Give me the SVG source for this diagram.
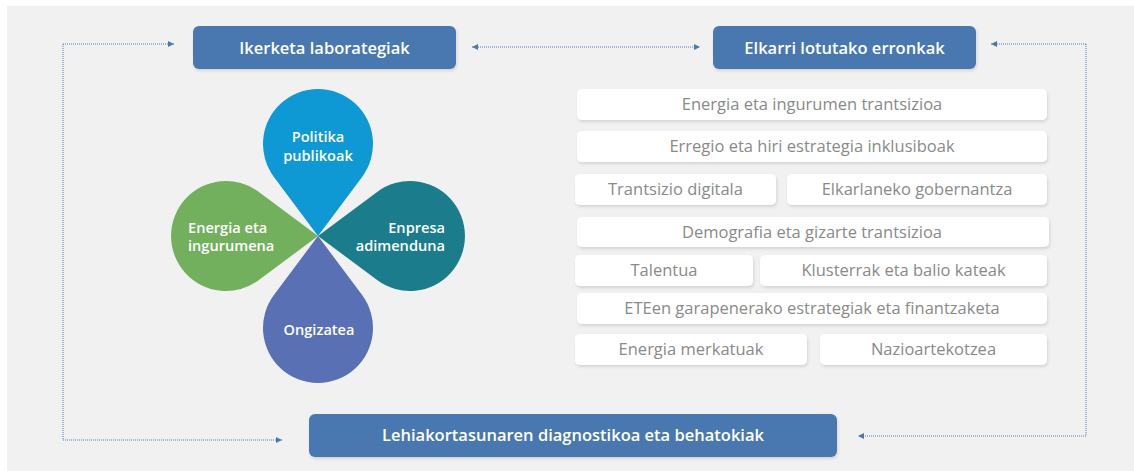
<svg xmlns="http://www.w3.org/2000/svg" width="1134" height="471" viewBox="0 0 1134 471">
<defs>
<style>
.hdr{fill:#4a78b0;}
.hdrt{fill:#ffffff;font-family:"Open Sans","Liberation Sans",sans-serif;font-weight:600;font-size:16.5px;text-anchor:middle;}
.box{fill:#ffffff;}
.boxt{fill:#8a8a8a;font-family:"Open Sans","Liberation Sans",sans-serif;font-size:16.5px;text-anchor:middle;}
.pt{fill:#ffffff;font-family:"Open Sans","Liberation Sans",sans-serif;font-weight:600;font-size:14.6px;}
.con{fill:none;stroke:#4f7cb8;stroke-width:1;stroke-dasharray:1 1;}
</style>
<filter id="sh" x="-10%" y="-30%" width="120%" height="160%">
<feDropShadow dx="1" dy="2" stdDeviation="1.5" flood-color="#000" flood-opacity="0.12"/>
</filter>
<marker id="ah" viewBox="0 0 6 6" refX="6" refY="3" markerWidth="6" markerHeight="6" markerUnits="userSpaceOnUse" orient="auto-start-reverse">
<path d="M0,0 L6,3 L0,6 z" fill="#4a78b0"/>
</marker>
<path id="petal" d="M0,0 L-44.1,-59.1 A55,55 0 1 1 44.1,-59.1 Z"/>
</defs>
<rect x="0" y="0" width="1134" height="471" fill="#ffffff"/>
<rect x="7" y="6" width="1127" height="465" fill="#f1f1f1"/>

<g id="connectors">
<path class="con" d="M63,44 H174" marker-end="url(#ah)"/>
<path class="con" d="M63,44 V440 H282" marker-end="url(#ah)"/>
<path class="con" d="M472,47 H700" marker-start="url(#ah)" marker-end="url(#ah)"/>
<path class="con" d="M1086,44 H991" marker-end="url(#ah)"/>
<path class="con" d="M1086,44 V436 H858" marker-end="url(#ah)"/>
</g>

<g id="ikerketa">
<rect class="hdr" x="193" y="26" width="263" height="43" rx="6" filter="url(#sh)"/>
<text class="hdrt" x="324.5" y="53.5">Ikerketa laborategiak</text>
</g>
<g id="elkarri">
<rect class="hdr" x="713" y="26" width="263" height="43" rx="6" filter="url(#sh)"/>
<text class="hdrt" x="844.5" y="53.5">Elkarri lotutako erronkak</text>
</g>
<g id="lehiakortasuna">
<rect class="hdr" x="309" y="414" width="528" height="43" rx="6" filter="url(#sh)"/>
<text class="hdrt" x="573" y="441">Lehiakortasunaren diagnostikoa eta behatokiak</text>
</g>

<g id="petal-politika">
<use href="#petal" transform="translate(318,236)" fill="#0e98d4"/>
<text class="pt" x="318" y="142" text-anchor="middle">Politika</text>
<text class="pt" x="318" y="161" text-anchor="middle">publikoak</text>
</g>
<g id="petal-enpresa">
<use href="#petal" transform="translate(318,236) rotate(90)" fill="#1b7d8b"/>
<text class="pt" x="445" y="233" text-anchor="end">Enpresa</text>
<text class="pt" x="445" y="251" text-anchor="end">adimenduna</text>
</g>
<g id="petal-energia">
<use href="#petal" transform="translate(318,236) rotate(-90)" fill="#72b05d"/>
<text class="pt" x="188" y="233">Energia eta</text>
<text class="pt" x="188" y="251">ingurumena</text>
</g>
<g id="petal-ongizatea">
<use href="#petal" transform="translate(318,236) rotate(180)" fill="#5a70b5"/>
<text class="pt" x="319" y="335" text-anchor="middle">Ongizatea</text>
</g>

<g id="b1"><rect class="box" x="577" y="89" width="470" height="31" rx="5" filter="url(#sh)"/><text class="boxt" x="812" y="110">Energia eta ingurumen trantsizioa</text></g>
<g id="b2"><rect class="box" x="577" y="131" width="470" height="31" rx="5" filter="url(#sh)"/><text class="boxt" x="812" y="152">Erregio eta hiri estrategia inklusiboak</text></g>
<g id="b3"><rect class="box" x="575" y="174" width="201" height="31" rx="5" filter="url(#sh)"/><text class="boxt" x="675.5" y="195">Trantsizio digitala</text></g>
<g id="b4"><rect class="box" x="787" y="174" width="260" height="31" rx="5" filter="url(#sh)"/><text class="boxt" x="917" y="195">Elkarlaneko gobernantza</text></g>
<g id="b5"><rect class="box" x="577" y="217" width="472" height="30" rx="5" filter="url(#sh)"/><text class="boxt" x="812" y="237.5">Demografia eta gizarte trantsizioa</text></g>
<g id="b6"><rect class="box" x="575" y="255" width="178" height="31" rx="5" filter="url(#sh)"/><text class="boxt" x="664" y="276">Talentua</text></g>
<g id="b7"><rect class="box" x="760" y="255" width="287" height="31" rx="5" filter="url(#sh)"/><text class="boxt" x="903.5" y="276">Klusterrak eta balio kateak</text></g>
<g id="b8"><rect class="box" x="577" y="293" width="470" height="31" rx="5" filter="url(#sh)"/><text class="boxt" x="812" y="314">ETEen garapenerako estrategiak eta finantzaketa</text></g>
<g id="b9"><rect class="box" x="575" y="334" width="232" height="31" rx="5" filter="url(#sh)"/><text class="boxt" x="691" y="355">Energia merkatuak</text></g>
<g id="b10"><rect class="box" x="820" y="334" width="227" height="31" rx="5" filter="url(#sh)"/><text class="boxt" x="933.5" y="355">Nazioartekotzea</text></g>
</svg>
